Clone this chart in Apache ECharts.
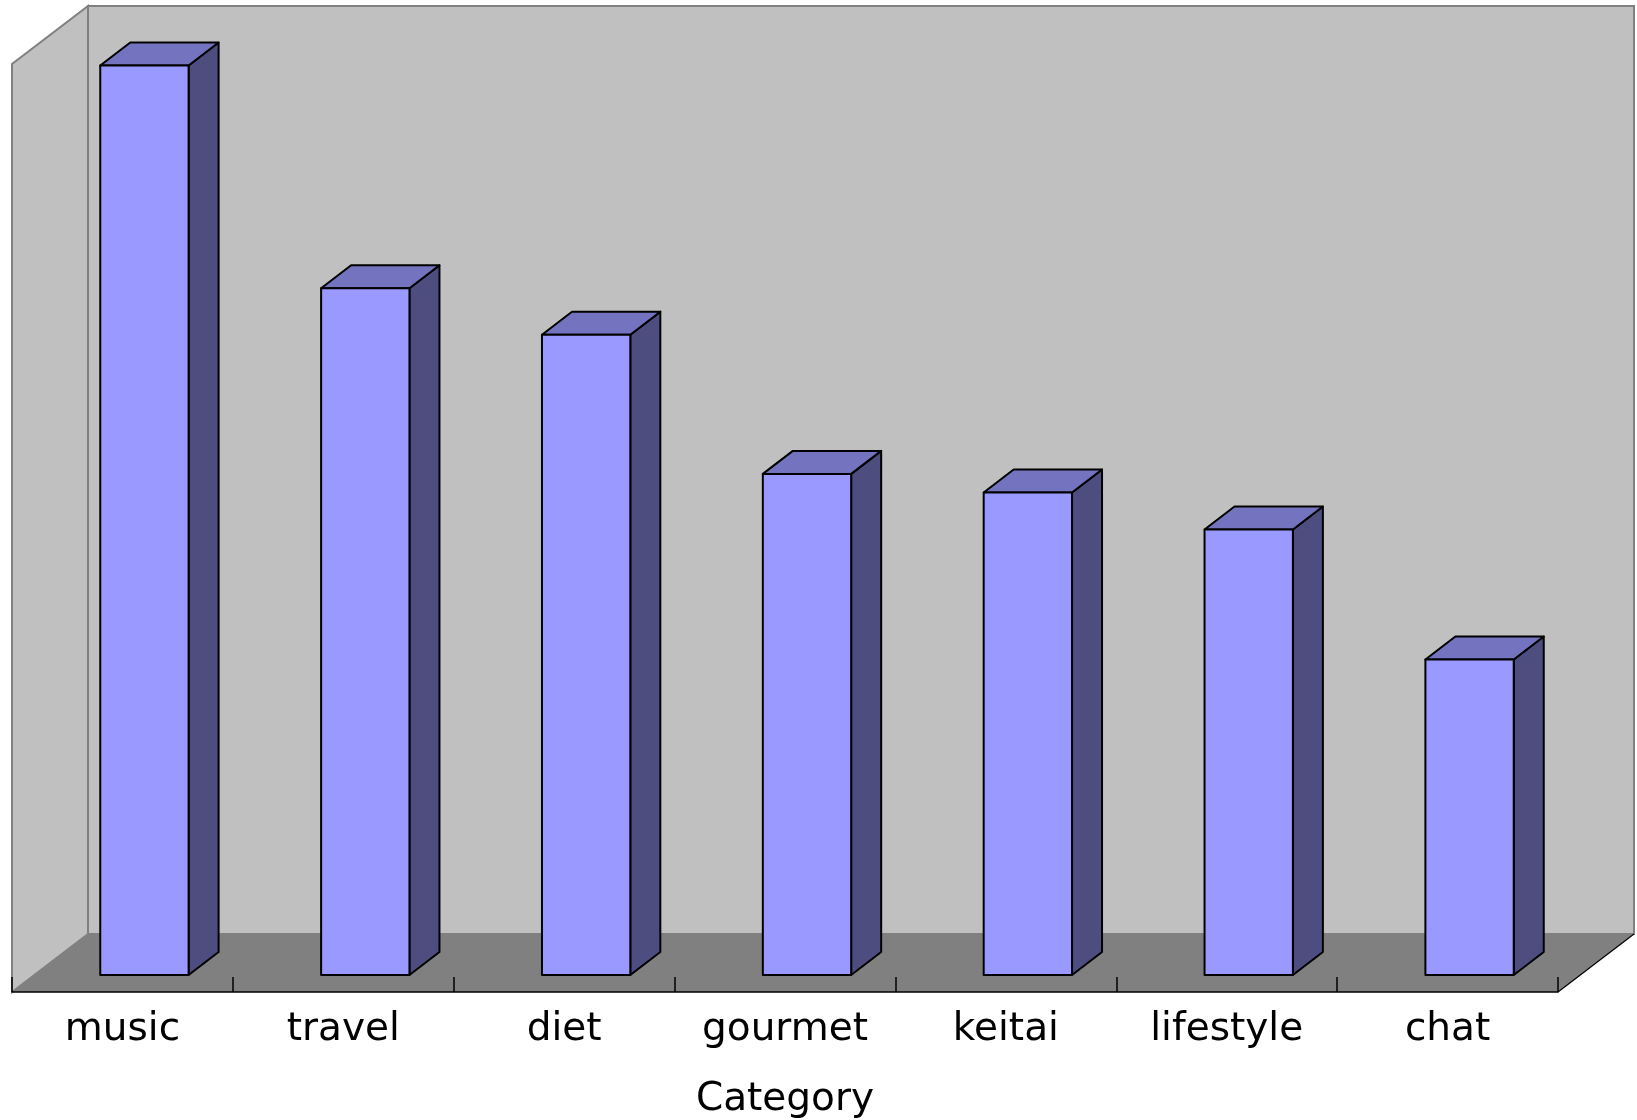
<!DOCTYPE html>
<html>
<head>
<meta charset="utf-8">
<script src="https://cdn.jsdelivr.net/npm/echarts@6/dist/echarts.min.js"></script>
<style>
  html, body { margin: 0; padding: 0; background: #fff; }
  #chart { width: 1637px; height: 1120px; }
</style>
</head>
<body>
<div id="chart"></div>
<script>
const categories = ['music', 'travel', 'diet', 'gourmet', 'keitai', 'lifestyle', 'chat'];
const counts = [98, 74, 69, 54, 52, 48, 34];
const axisMax = 100;

// depth offsets (px) from the bar plane
const FRONT = [-22, 17];
const BACK = [54, -41];
const BAR_DEPTH = [30, -23];

const chart = echarts.init(document.getElementById('chart'));

function renderWalls(params, api) {
    const cs = params.coordSys;
    const x0 = cs.x, x1 = cs.x + cs.width;
    const yTop = cs.y, yBot = cs.y + cs.height;
    const fl = [x0 + FRONT[0], yBot + FRONT[1]];
    const fr = [x1 + FRONT[0], yBot + FRONT[1]];
    const bl = [x0 + BACK[0], yBot + BACK[1]];
    const br = [x1 + BACK[0], yBot + BACK[1]];
    return {
        type: 'group',
        children: [
            {   // back wall
                type: 'rect',
                shape: { x: x0 + BACK[0], y: yTop + BACK[1], width: cs.width, height: cs.height },
                style: { fill: '#C0C0C0', stroke: '#808080', lineWidth: 2 }
            },
            {   // left wall
                type: 'polygon',
                shape: { points: [fl, [x0 + FRONT[0], yTop + FRONT[1]], [x0 + BACK[0], yTop + BACK[1]], bl] },
                style: { fill: '#C0C0C0', stroke: '#808080', lineWidth: 2 }
            },
            {   // floor
                type: 'polygon',
                shape: { points: [fl, fr, br, bl] },
                style: { fill: '#808080' }
            },
            {
                type: 'line',
                shape: { x1: fr[0], y1: fr[1], x2: br[0], y2: br[1] },
                style: { stroke: '#000', lineWidth: 1.2 }
            }
        ]
    };
}

function renderBar(params, api) {
    const base = api.coord([api.value(0), 0]);
    const top = api.coord([api.value(0), api.value(1)]);
    const w = api.size([1, 0])[0] * 0.4;
    const l = base[0] - w / 2, r = base[0] + w / 2;
    const t = top[1], b = base[1];
    const dx = BAR_DEPTH[0], dy = BAR_DEPTH[1];
    const line = { stroke: '#000', lineWidth: 2, lineJoin: 'round' };
    return {
        type: 'group',
        children: [
            {
                type: 'polygon',
                shape: { points: [[r, t], [r + dx, t + dy], [r + dx, b + dy], [r, b]] },
                style: Object.assign({ fill: '#4D4D80' }, line)
            },
            {
                type: 'polygon',
                shape: { points: [[l, t], [l + dx, t + dy], [r + dx, t + dy], [r, t]] },
                style: Object.assign({ fill: '#7373BF' }, line)
            },
            {
                type: 'rect',
                shape: { x: l, y: t, width: w, height: b - t },
                style: Object.assign({ fill: '#9999FF' }, line)
            }
        ]
    };
}

const option = {
    animation: false,
    grid: [
        { left: 34, width: 1546, top: 47, height: 928 },
        { left: 12, width: 1546, top: 900, height: 92 }
    ],
    xAxis: [
        { gridIndex: 0, type: 'category', data: categories, show: false },
        {
            gridIndex: 1,
            type: 'category',
            data: categories,
            z: 10,
            axisLine: { lineStyle: { color: '#000', width: 1.5 } },
            axisTick: { show: true, inside: true, length: 15, lineStyle: { color: '#000', width: 1.5 } },
            axisLabel: {
                color: '#000',
                fontSize: 39,
                fontFamily: 'DejaVu Sans',
                margin: 18
            },
            name: 'Category',
            nameLocation: 'middle',
            nameGap: 88,
            nameTextStyle: { color: '#000', fontSize: 39, fontFamily: 'DejaVu Sans' }
        }
    ],
    yAxis: [
        { gridIndex: 0, type: 'value', min: 0, max: axisMax, show: false },
        { gridIndex: 1, type: 'value', show: false }
    ],
    series: [
        {
            type: 'custom',
            xAxisIndex: 0,
            yAxisIndex: 0,
            z: 1,
            silent: true,
            renderItem: renderWalls,
            data: [[0, 0]]
        },
        {
            type: 'custom',
            name: 'count',
            xAxisIndex: 0,
            yAxisIndex: 0,
            z: 3,
            renderItem: renderBar,
            data: categories.map((c, i) => [i, counts[i]])
        }
    ]
};

chart.setOption(option);
</script>
</body>
</html>
